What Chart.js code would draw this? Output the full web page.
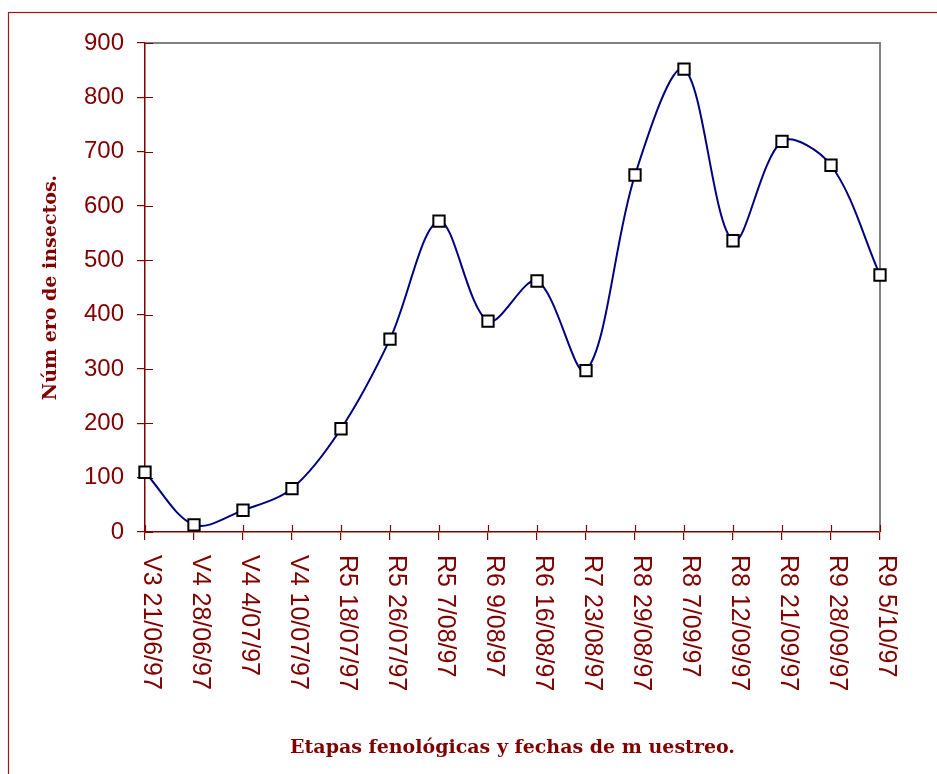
<!DOCTYPE html>
<html>
<head>
<meta charset="utf-8">
<script src="https://cdn.jsdelivr.net/npm/chart.js@4.4.1/dist/chart.umd.min.js"></script>
<style>
  html, body { margin: 0; padding: 0; background: #ffffff; }
  #wrap { position: relative; width: 937px; height: 774px; overflow: hidden; }
  canvas { display: block; }
</style>
</head>
<body>
<div id="wrap"><canvas id="c" width="937" height="774"></canvas></div>
<script>
const categories = [
  "V3 21/06/97", "V4 28/06/97", "V4 4/07/97", "V4 10/07/97",
  "R5 18/07/97", "R5 26/07/97", "R5 7/08/97", "R6 9/08/97",
  "R6 16/08/97", "R7 23/08/97", "R8 29/08/97", "R8 7/09/97",
  "R8 12/09/97", "R8 21/09/97", "R9 28/09/97", "R9 5/10/97"
];
const insectos = [110, 13, 40, 80, 190, 355, 572, 388, 462, 297, 657, 852, 536, 719, 675, 473];
const yTicks = [0, 100, 200, 300, 400, 500, 600, 700, 800, 900];
const yTitle = "Núm ero de insectos.";
const xTitle = "Etapas fenológicas y fechas de m uestreo.";

const RED = "#800000";

const decor = {
  id: "decor",
  beforeDraw(chart) {
    const ctx = chart.ctx;
    ctx.save();
    ctx.strokeStyle = "#a01818";
    ctx.lineWidth = 1.2;
    ctx.strokeRect(8.5, 12.5, 2000, 2000);
    ctx.restore();
  },
  beforeDatasetsDraw(chart) {
    const ctx = chart.ctx;
    const a = chart.chartArea;
    const xs = chart.scales.x, ys = chart.scales.y;
    ctx.save();
    ctx.strokeStyle = "#808080";
    ctx.lineWidth = 2;
    ctx.beginPath();
    ctx.moveTo(a.left, a.top);
    ctx.lineTo(a.right, a.top);
    ctx.lineTo(a.right, a.bottom);
    ctx.stroke();
    ctx.strokeStyle = RED;
    ctx.lineWidth = 1.2;
    ctx.beginPath();
    yTicks.forEach(v => {
      const y = Math.round(ys.getPixelForValue(v)) + 0.5;
      ctx.moveTo(a.left, y);
      ctx.lineTo(a.left + 8, y);
    });
    categories.forEach((c, i) => {
      const x = Math.round(xs.getPixelForValue(i)) + 0.5;
      ctx.moveTo(x, a.bottom);
      ctx.lineTo(x, a.bottom - 7);
    });
    ctx.stroke();
    ctx.restore();
  },
  afterDraw(chart) {
    const ctx = chart.ctx;
    const xs = chart.scales.x;
    const a = chart.chartArea;
    ctx.save();
    ctx.fillStyle = RED;
    ctx.font = "25px 'Liberation Sans', Arial, sans-serif";
    ctx.textAlign = "left";
    ctx.textBaseline = "alphabetic";
    categories.forEach((c, i) => {
      const x = xs.getPixelForValue(i);
      ctx.save();
      ctx.translate(x - 1, a.bottom + 23);
      ctx.rotate(Math.PI / 2);
      ctx.fillText(c, 0, 0);
      ctx.restore();
    });
    ctx.restore();
  }
};

new Chart(document.getElementById("c"), {
  type: "line",
  data: {
    labels: categories,
    datasets: [{
      data: insectos,
      borderColor: "#000080",
      borderWidth: 2,
      tension: 0.33,
      fill: false,
      pointStyle: "rect",
      pointRadius: 8,
      pointBackgroundColor: "#ffffff",
      pointBorderColor: "#000000",
      pointBorderWidth: 2,
      clip: false
    }]
  },
  options: {
    responsive: false,
    devicePixelRatio: 1,
    animation: false,
    events: [],
    layout: { padding: { left: 0, top: 43, right: 57, bottom: 0 } },
    plugins: { legend: { display: false }, tooltip: { enabled: false }, title: { display: false } },
    scales: {
      x: {
        type: "category",
        offset: false,
        afterFit(s) { s.height = 242; },
        grid: { display: true, drawOnChartArea: false, drawTicks: true, tickLength: 8, color: RED, lineWidth: 1.2 },
        border: { display: true, color: RED, width: 1.5 },
        ticks: { display: false },
        title: {
          display: true,
          text: xTitle,
          color: RED,
          font: { family: "'DejaVu Serif', serif", size: 19, weight: "bold" },
          padding: { top: 0, bottom: 15 }
        }
      },
      y: {
        min: 0,
        max: 900,
        afterFit(s) { s.width = 145; },
        afterBuildTicks(s) { s.ticks = yTicks.map(v => ({ value: v })); },
        grid: { display: true, drawOnChartArea: false, drawTicks: true, tickLength: 8, color: RED, lineWidth: 1.2 },
        border: { display: true, color: RED, width: 1.5 },
        ticks: {
          color: RED,
          padding: 13,
          font: { family: "'Liberation Sans', Arial, sans-serif", size: 24 }
        },
        title: {
          display: true,
          text: yTitle,
          color: RED,
          font: { family: "'DejaVu Serif', serif", size: 19, weight: "bold" },
          padding: { top: 40, bottom: 0 }
        }
      }
    }
  },
  plugins: [decor]
});
</script>
</body>
</html>
